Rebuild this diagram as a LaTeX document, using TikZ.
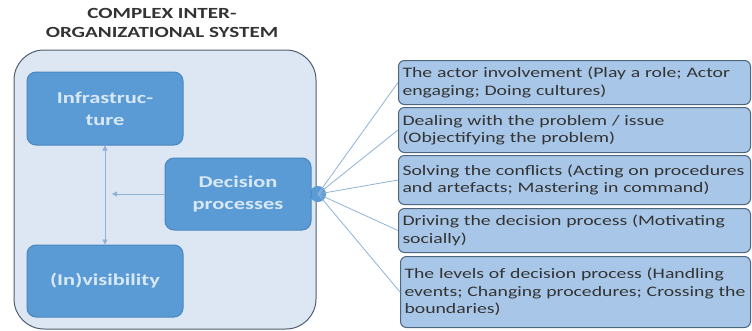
\documentclass[tikz,border=0pt]{standalone}
\usepackage{fontspec}
\setmainfont{Carlito}[FakeStretch=1.36]
\usetikzlibrary{arrows.meta}
\definecolor{outerfill}{HTML}{DCE7F3}
\definecolor{outerdraw}{HTML}{4E5E70}
\definecolor{innerfill}{HTML}{5B9BD5}
\definecolor{innerdraw}{HTML}{4A86C0}
\definecolor{innertext}{HTML}{D9E8F6}
\definecolor{rightfill}{HTML}{A8C7E8}
\definecolor{rightdraw}{HTML}{4C6680}
\definecolor{linkcol}{HTML}{8FB2D8}
\definecolor{titlecol}{HTML}{333333}
\tikzset{
  x=1pt, y=-1pt,
  innerbox/.style={draw=innerdraw, line width=1pt, fill=innerfill, rounded corners=9pt,
    text=innertext, font=\fontsize{16.5}{22}\selectfont\bfseries, align=center, inner sep=0pt},
  rightbox/.style={draw=rightdraw, line width=1pt, fill=rightfill, rounded corners=6pt,
    text=titlecol, font=\fontsize{14.5}{17.5}\selectfont, align=left, anchor=north west,
    inner xsep=4pt, inner ysep=2pt, text width=344pt},
  link/.style={draw=linkcol, line width=0.8pt},
  arr/.style={draw=linkcol, line width=0.8pt, -{Triangle[length=5pt,width=5pt]}},
}
\begin{document}
\begin{tikzpicture}
\useasboundingbox (0,0) rectangle (752,330);
% title
\node[font=\fontsize{15.5}{19}\selectfont\bfseries, text=titlecol, align=center] (title) at (162,23) {COMPLEX INTER-\\ORGANIZATIONAL SYSTEM};
% outer container
\draw[draw=outerdraw, line width=1pt, fill=outerfill, rounded corners=30pt] (14,50) rectangle (316,329);
% inner boxes
\node[innerbox, minimum width=156pt, minimum height=73pt] (infra) at (105,108.5) {Infrastruc-\\ture};
\node[innerbox, minimum width=156pt, minimum height=72pt] (invis) at (105,281) {(In)visibility};
% hub circle
\fill[innerfill] (318,194) circle (8pt);
\node[circle, minimum size=16pt, inner sep=0pt] (hub) at (318,194) {};
\node[innerbox, minimum width=146pt, minimum height=72pt] (dec) at (238,194) {Decision\\processes};
% arrows
\draw[arr, {Triangle[length=5pt,width=5pt]}-{Triangle[length=5pt,width=5pt]}] (infra.south) -- (invis.north);
\coordinate (tip) at (112,194);
\draw[arr] (dec.west) -- (tip);
% right boxes
\node[rightbox, minimum height=44pt] (r1) at (398,60) {The actor involvement (Play a role; Actor\\engaging; Doing cultures)};
\node[rightbox, minimum height=45pt] (r2) at (398,107) {Dealing with the problem / issue\\(Objectifying the problem)};
\node[rightbox, minimum height=49pt] (r3) at (398,155) {Solving the conflicts (Acting on procedures\\and artefacts; Mastering in command)};
\node[rightbox, minimum height=44pt] (r4) at (398,208) {Driving the decision process (Motivating\\socially)};
\node[rightbox, minimum height=71pt, text width=342pt] (r5) at (400,256) {The levels of decision process (Handling\\events; Changing procedures; Crossing the\\boundaries)};
% links
\foreach \r in {r1,r2,r3,r4,r5}{
  \draw[link] (hub.center) -- (\r.west);
}
\end{tikzpicture}
\end{document}
